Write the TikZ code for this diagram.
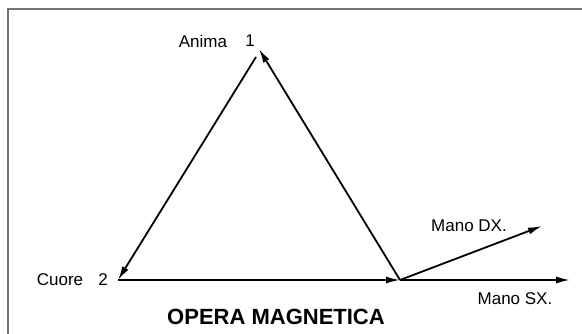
\documentclass[tikz,border=0pt]{standalone}
\usepackage{fontspec}
\setmainfont{Liberation Sans}
\usetikzlibrary{arrows.meta}
\begin{document}
\begin{tikzpicture}[x=1pt,y=-1pt,
  lbl/.style={inner sep=0pt,font=\fontsize{17}{20}\selectfont},
  ttl/.style={inner sep=0pt,font=\fontsize{22}{26}\selectfont\bfseries},
  vec/.style={line width=1.8pt,-{Latex[length=14pt,width=7pt]}},
  frame/.style={line width=2pt,draw=black!55}]
\useasboundingbox (0,0) rectangle (582,334);
\draw[frame] (8,334) -- (8,9) -- (582,9);
\coordinate (A) at (259,49);
\coordinate (Astart) at (256,57);
\coordinate (C) at (118,280);
\coordinate (O) at (400,280);
\coordinate (DX) at (542,226);
\coordinate (SX) at (570,280);
\node[lbl] (anima) at (203,41) {Anima};
\node[lbl] (one) at (250,41) {1};
\node[lbl] (cuore) at (60,280) {Cuore};
\node[lbl] (two) at (103,280) {2};
\node[lbl] (mdx) at (469,226) {Mano DX.};
\node[lbl] (msx) at (515,299) {Mano SX.};
\node[ttl] (title) at (276,317) {OPERA MAGNETICA};
\draw[vec] (Astart) -- (C);
\draw[vec] (C) -- (O);
\draw[vec] (O) -- (A);
\draw[vec] (O) -- (DX);
\draw[vec] (O) -- (SX);
\end{tikzpicture}
\end{document}
